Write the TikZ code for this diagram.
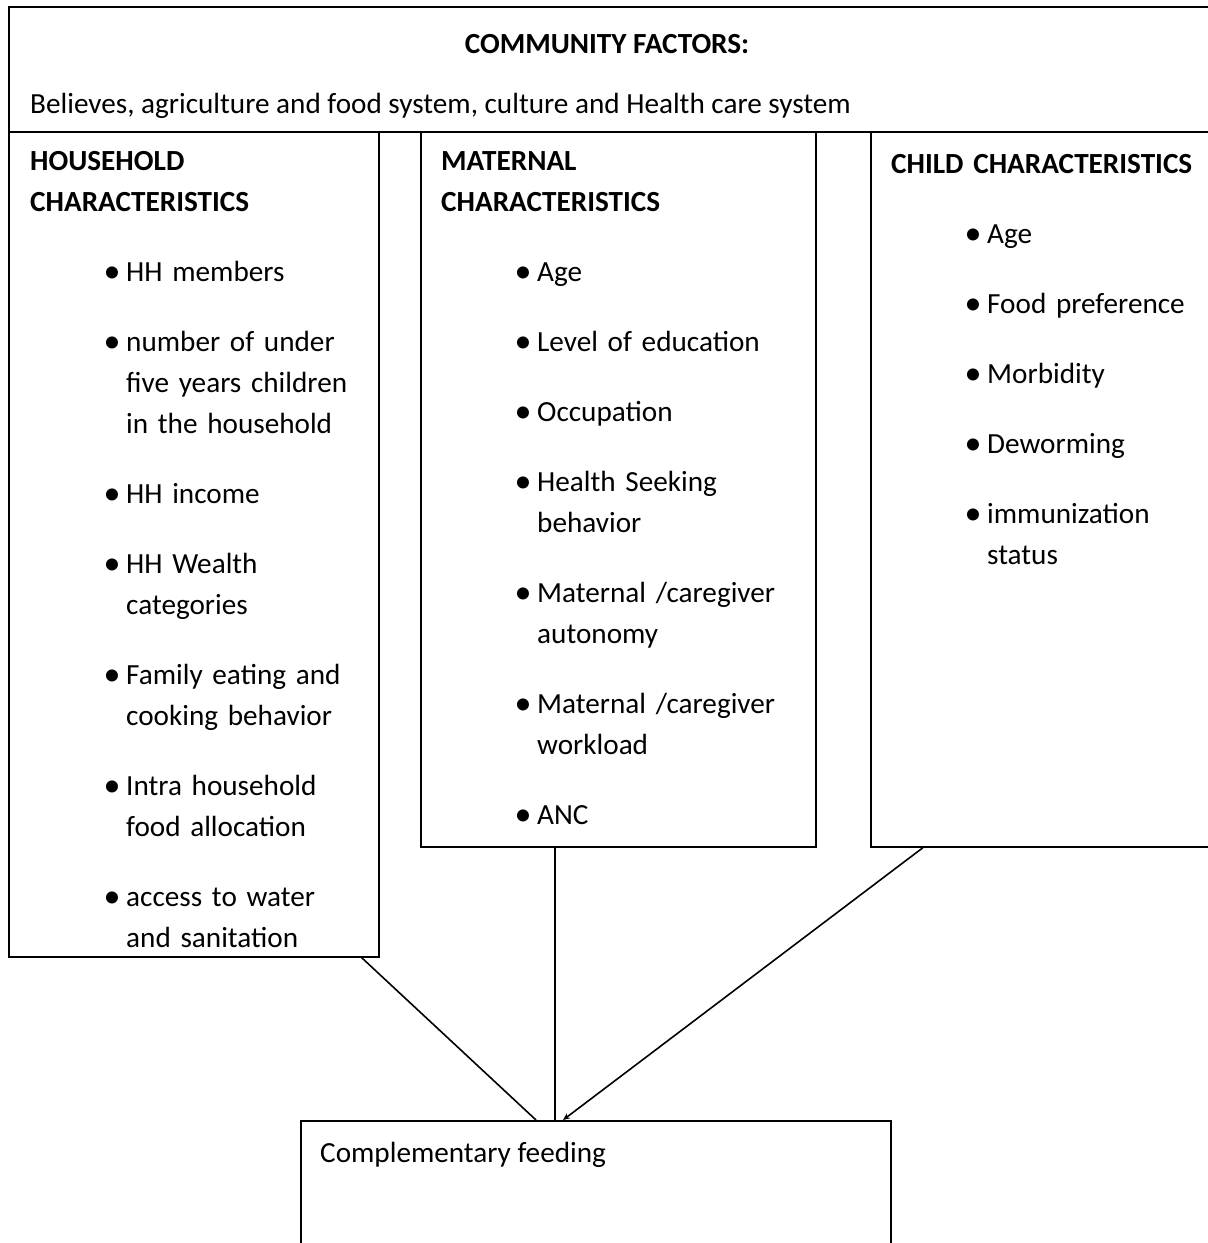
\documentclass[tikz,border=0pt]{standalone}
\usepackage{fontspec}
\setmainfont{Carlito}
\usetikzlibrary{arrows.meta,positioning,calc}
\newcommand{\itm}[1]{\par\vspace{29pt}\leftskip=96pt\noindent\llap{\makebox[0pt]{\raisebox{-1pt}{\fontsize{34}{41}\selectfont\textbullet}}\hspace{14pt}}#1}
\newcommand{\tstrut}{\rule{0pt}{24pt}}
\tikzset{
  cbox/.style={draw,line width=1.6pt,anchor=north west,inner sep=0pt},
  lst/.style={anchor=north west,inner sep=0pt,text width=#1,align=left},
  ln/.style={line width=1.6pt},
}

\begin{document}
\begin{tikzpicture}[x=1pt,y=-1pt, every node/.style={font=\fontsize{29.2}{41}\selectfont}]
\useasboundingbox (0,0) rectangle (1208,1243);
% boxes
\node[cbox,minimum width=1206pt,minimum height=125pt] (comm) at (8,6) {};
\node[cbox,minimum width=370pt,minimum height=825pt] (hh) at (8,131) {};
\node[cbox,minimum width=395pt,minimum height=715pt] (mat) at (420,131) {};
\node[cbox,minimum width=344pt,minimum height=715pt] (chd) at (870,131) {};
\node[cbox,minimum width=590pt,minimum height=130pt] (cf) at (300,1120) {};
% community text
\node[anchor=base,inner sep=0pt] (commttl) at (607,53) {\textbf{COMMUNITY FACTORS:}};
\node[anchor=base west,inner sep=0pt] (commtxt) at (30,113)
  {Believes, agriculture and food system, culture and Health care system};
% household list
\node[lst=340pt] (hhtxt) at (30,146) {\tstrut\textbf{HOUSEHOLD}\\\textbf{CHARACTERISTICS}
  \itm{HH members}
  \itm{number of under\\five years children\\in the household}
  \itm{HH income}
  \itm{HH Wealth\\categories}
  \itm{Family eating and\\cooking behavior}
  \itm{Intra household\\food allocation}
  \itm{access to water\\and sanitation}\par};
% maternal list
\node[lst=370pt] (mattxt) at (441,146) {\tstrut\textbf{MATERNAL}\\\textbf{CHARACTERISTICS}
  \itm{Age}
  \itm{Level of education}
  \itm{Occupation}
  \itm{Health Seeking\\behavior}
  \itm{Maternal /caregiver\\autonomy}
  \itm{Maternal /caregiver\\workload}
  \itm{ANC}\par};
% child list
\node[lst=320pt] (chdtxt) at (891,149) {\tstrut\textbf{CHILD CHARACTERISTICS}
  \itm{Age}
  \itm{Food preference}
  \itm{Morbidity}
  \itm{Deworming}
  \itm{immunization\\status}\par};
\node[anchor=base west,inner sep=0pt] (cftxt) at (320,1162) {Complementary feeding};
% connectors
\draw[ln] ([xshift=-18pt]hh.south east) -- ([xshift=236pt]cf.north west);
\draw[ln] ([xshift=135pt]mat.south west) -- ([xshift=255pt]cf.north west);
\draw[ln,-{Stealth[length=7pt,width=6pt]}] ([xshift=53pt]chd.south west) -- ([xshift=263pt]cf.north west);
\end{tikzpicture}
\end{document}
